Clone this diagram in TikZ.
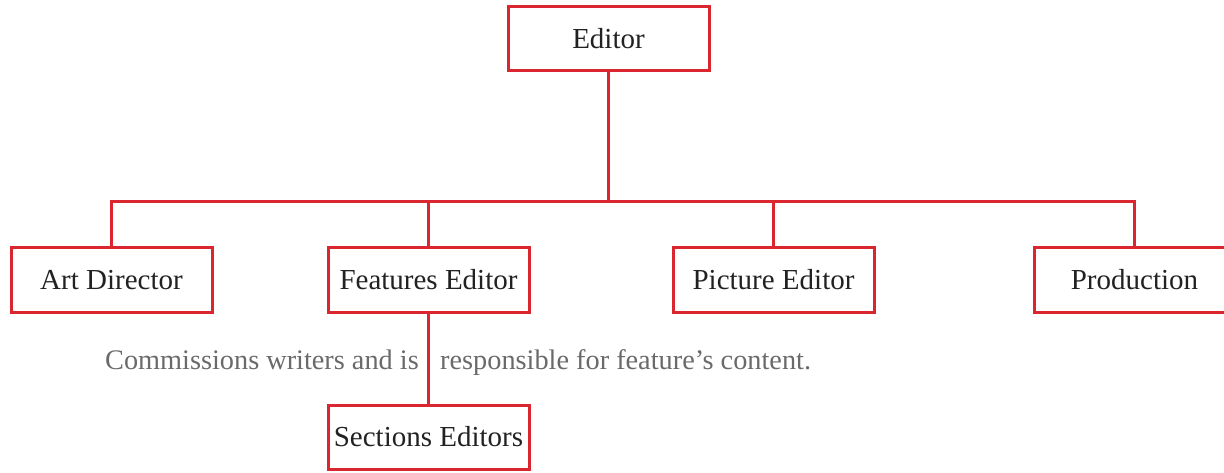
\documentclass[tikz,border=0pt]{standalone}
\usepackage{fontspec}
\setmainfont{Liberation Serif}
\definecolor{boxred}{HTML}{D9262F}
\definecolor{notegray}{HTML}{6A6A6A}
\definecolor{txt}{HTML}{222222}
\begin{document}
\begin{tikzpicture}[x=1pt,y=-1pt,
  rolebox/.style={draw=boxred, line width=3pt, fill=white, minimum width=201pt, minimum height=64pt, inner sep=0pt, text=txt, font=\fontsize{29}{33}\selectfont},
  link/.style={draw=boxred, line width=3pt},
  note/.style={text=notegray, font=\fontsize{28.3}{32}\selectfont, inner sep=0pt}]
\useasboundingbox (0,0) rectangle (1224,473);
\node[rolebox] (ed) at (608.5,39) {Editor};
\node[rolebox] (art) at (111.5,280) {Art Director};
\node[rolebox] (feat) at (428.5,280) {Features Editor};
\node[rolebox] (pic) at (773.5,280) {Picture Editor};
\node[rolebox] (prod) at (1134.5,280) {Production};
\node[rolebox] (sec) at (428.5,437) {Sections Editors};
\coordinate (bus) at (608.5,202);
\draw[link] (ed.south) -- (bus);
\draw[link] (art.north) |- (bus) -| (prod.north);
\draw[link] (feat.north) -- (feat.north |- bus);
\draw[link] (pic.north) -- (pic.north |- bus);
\draw[link] (feat.south) -- (sec.north);
\node[note, anchor=base east] (n1) at (419,369) {Commissions writers and is};
\node[note, anchor=base west] (n2) at (440,369) {responsible for feature’s content.};
\end{tikzpicture}
\end{document}
